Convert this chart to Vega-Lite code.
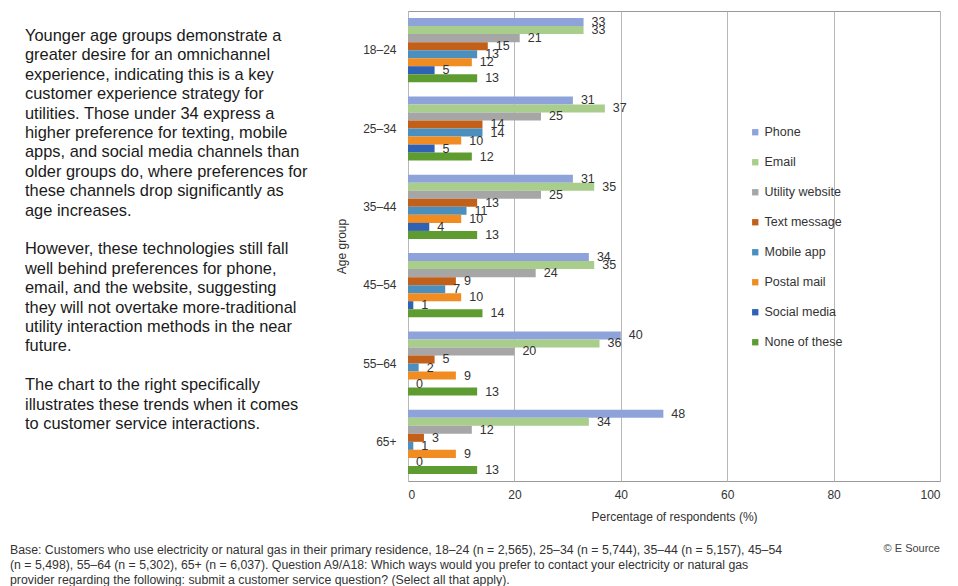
{
  "$schema": "https://vega.github.io/schema/vega-lite/v6.json",
  "padding": {"left": 10, "top": 10, "right": 10, "bottom": 2},
  "background": "white",
  "config": {
    "font": "Liberation Sans",
    "view": {"stroke": null},
    "concat": {"spacing": 93}
  },
  "title": {
    "text": [
      "Base: Customers who use electricity or natural gas in their primary residence, 18–24 (n = 2,565), 25–34 (n = 5,744), 35–44 (n = 5,157), 45–54",
      "(n = 5,498), 55–64 (n = 5,302), 65+ (n = 6,037). Question A9/A18: Which ways would you prefer to contact your electricity or natural gas",
      "provider regarding the following: submit a customer service question? (Select all that apply)."
    ],
    "orient": "bottom",
    "anchor": "start",
    "frame": "bounds",
    "offset": -11,
    "fontSize": 12.3,
    "lineHeight": 15,
    "fontWeight": "normal",
    "color": "#333333"
  },
  "datasets": {
    "notes": [
      {"i": 0, "t": "Younger age groups demonstrate a"},
      {"i": 1, "t": "greater desire for an omnichannel"},
      {"i": 2, "t": "experience, indicating this is a key"},
      {"i": 3, "t": "customer experience strategy for"},
      {"i": 4, "t": "utilities. Those under 34 express a"},
      {"i": 5, "t": "higher preference for texting, mobile"},
      {"i": 6, "t": "apps, and social media channels than"},
      {"i": 7, "t": "older groups do, where preferences for"},
      {"i": 8, "t": "these channels drop significantly as"},
      {"i": 9, "t": "age increases."},
      {"i": 11, "t": "However, these technologies still fall"},
      {"i": 12, "t": "well behind preferences for phone,"},
      {"i": 13, "t": "email, and the website, suggesting"},
      {"i": 14, "t": "they will not overtake more-traditional"},
      {"i": 15, "t": "utility interaction methods in the near"},
      {"i": 16, "t": "future."},
      {"i": 18, "t": "The chart to the right specifically"},
      {"i": 19, "t": "illustrates these trends when it comes"},
      {"i": 20, "t": "to customer service interactions."}
    ],
    "survey": [
      {"age": "18–24", "channel": "Phone", "pct": 33},
      {"age": "18–24", "channel": "Email", "pct": 33},
      {"age": "18–24", "channel": "Utility website", "pct": 21},
      {"age": "18–24", "channel": "Text message", "pct": 15},
      {"age": "18–24", "channel": "Mobile app", "pct": 13},
      {"age": "18–24", "channel": "Postal mail", "pct": 12},
      {"age": "18–24", "channel": "Social media", "pct": 5},
      {"age": "18–24", "channel": "None of these", "pct": 13},
      {"age": "25–34", "channel": "Phone", "pct": 31},
      {"age": "25–34", "channel": "Email", "pct": 37},
      {"age": "25–34", "channel": "Utility website", "pct": 25},
      {"age": "25–34", "channel": "Text message", "pct": 14},
      {"age": "25–34", "channel": "Mobile app", "pct": 14},
      {"age": "25–34", "channel": "Postal mail", "pct": 10},
      {"age": "25–34", "channel": "Social media", "pct": 5},
      {"age": "25–34", "channel": "None of these", "pct": 12},
      {"age": "35–44", "channel": "Phone", "pct": 31},
      {"age": "35–44", "channel": "Email", "pct": 35},
      {"age": "35–44", "channel": "Utility website", "pct": 25},
      {"age": "35–44", "channel": "Text message", "pct": 13},
      {"age": "35–44", "channel": "Mobile app", "pct": 11},
      {"age": "35–44", "channel": "Postal mail", "pct": 10},
      {"age": "35–44", "channel": "Social media", "pct": 4},
      {"age": "35–44", "channel": "None of these", "pct": 13},
      {"age": "45–54", "channel": "Phone", "pct": 34},
      {"age": "45–54", "channel": "Email", "pct": 35},
      {"age": "45–54", "channel": "Utility website", "pct": 24},
      {"age": "45–54", "channel": "Text message", "pct": 9},
      {"age": "45–54", "channel": "Mobile app", "pct": 7},
      {"age": "45–54", "channel": "Postal mail", "pct": 10},
      {"age": "45–54", "channel": "Social media", "pct": 1},
      {"age": "45–54", "channel": "None of these", "pct": 14},
      {"age": "55–64", "channel": "Phone", "pct": 40},
      {"age": "55–64", "channel": "Email", "pct": 36},
      {"age": "55–64", "channel": "Utility website", "pct": 20},
      {"age": "55–64", "channel": "Text message", "pct": 5},
      {"age": "55–64", "channel": "Mobile app", "pct": 2},
      {"age": "55–64", "channel": "Postal mail", "pct": 9},
      {"age": "55–64", "channel": "Social media", "pct": 0},
      {"age": "55–64", "channel": "None of these", "pct": 13},
      {"age": "65+", "channel": "Phone", "pct": 48},
      {"age": "65+", "channel": "Email", "pct": 34},
      {"age": "65+", "channel": "Utility website", "pct": 12},
      {"age": "65+", "channel": "Text message", "pct": 3},
      {"age": "65+", "channel": "Mobile app", "pct": 1},
      {"age": "65+", "channel": "Postal mail", "pct": 9},
      {"age": "65+", "channel": "Social media", "pct": 0},
      {"age": "65+", "channel": "None of these", "pct": 13}
    ]
  },
  "resolve": {"legend": {"color": "independent"}},
  "bounds": "flush",
  "hconcat": [
    {
      "width": 305,
      "height": 470,
      "data": {"name": "notes"},
      "mark": {"type": "text", "align": "left", "baseline": "middle", "dx": 15, "fontSize": 16.4, "color": "#1a1a1a"},
      "encoding": {
        "x": {"value": 0},
        "y": {"field": "i", "type": "quantitative", "axis": null,
              "scale": {"domain": [-1.29, 22.94], "reverse": true, "nice": false, "zero": false}},
        "text": {"field": "t"}
      }
    },
    {
      "width": 532,
      "height": 470,
      "view": {"stroke": "#999999", "strokeWidth": 1},
      "title": {"text": "© E Source", "orient": "bottom", "anchor": "end", "fontSize": 11, "fontWeight": "normal", "color": "#444444", "offset": 21},
      "data": {"name": "survey"},
      "encoding": {
        "y": {
          "field": "age", "type": "nominal",
          "sort": ["18–24", "25–34", "35–44", "45–54", "55–64", "65+"],
          "scale": {"paddingInner": 0.18, "paddingOuter": 0.09},
          "axis": {"title": "Age group", "titleFontSize": 12, "titleFontWeight": "normal", "titleColor": "#333333",
                   "labelFontSize": 12, "labelColor": "#333333", "labelPadding": 12, "ticks": false, "domain": false, "titlePadding": 14}
        },
        "yOffset": {
          "field": "channel", "type": "nominal",
          "sort": ["Phone", "Email", "Utility website", "Text message", "Mobile app", "Postal mail", "Social media", "None of these"],
          "scale": {"paddingInner": 0, "paddingOuter": 0}
        },
        "x": {
          "field": "pct", "type": "quantitative",
          "scale": {"domain": [0, 100], "nice": false},
          "axis": {"title": "Percentage of respondents (%)", "values": [0, 20, 40, 60, 80, 100],
                   "titleFontSize": 12, "titleFontWeight": "normal", "titleColor": "#333333", "titlePadding": 11,
                   "labelFontSize": 12, "labelColor": "#333333", "labelPadding": 8, "ticks": false, "domain": false,
                   "grid": true, "gridColor": "#b8b8b8", "gridWidth": 1}
        }
      },
      "layer": [
        {
          "mark": {"type": "bar"},
          "encoding": {
            "color": {
              "field": "channel", "type": "nominal",
              "sort": ["Phone", "Email", "Utility website", "Text message", "Mobile app", "Postal mail", "Social media", "None of these"],
              "scale": {
                "domain": ["Phone", "Email", "Utility website", "Text message", "Mobile app", "Postal mail", "Social media", "None of these"],
                "range": ["#8fa3db", "#a9cd8b", "#a6a6a6", "#c2601a", "#4b8fbf", "#f08c22", "#2f62b5", "#5e9c32"]
              },
              "legend": {
                "title": null, "orient": "none", "legendX": 341, "legendY": 115,
                "symbolType": "square", "symbolSize": 40, "symbolStrokeWidth": 0,
                "labelFontSize": 12.5, "labelColor": "#333333", "labelOffset": 3, "rowPadding": 17,
                "encode": {
                  "symbols": {
                    "update": {
                      "fill": {"signal": "indexof(['Phone','Email','Utility website'], datum.value) >= 0 ? '#a6a6a6' : scale('color', datum.value)"},
                      "stroke": {"value": "transparent"}
                    }
                  }
                }
              }
            }
          }
        },
        {
          "mark": {"type": "text", "align": "left", "baseline": "middle", "dx": 8, "fontSize": 12.5, "color": "#333333"},
          "encoding": {"text": {"field": "pct", "type": "quantitative"}}
        }
      ]
    }
  ]
}
